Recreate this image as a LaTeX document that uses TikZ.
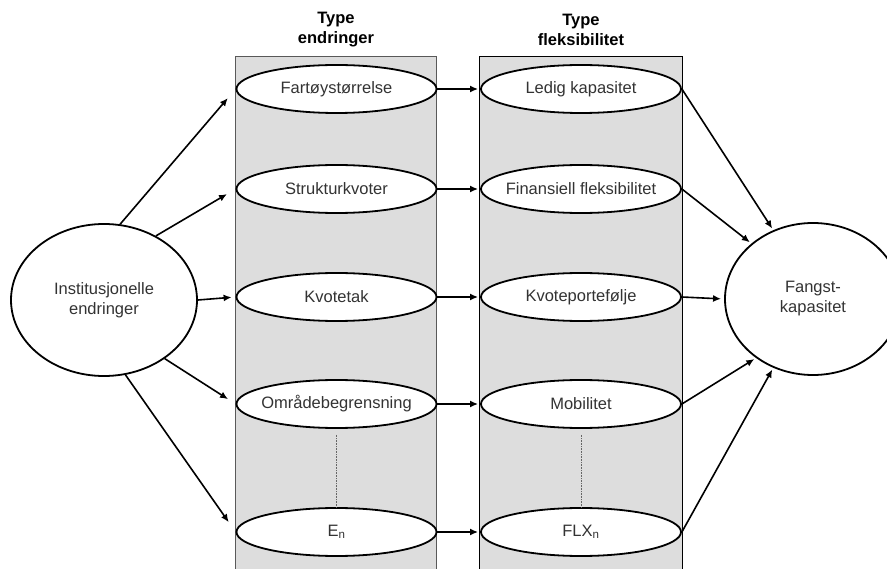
\documentclass[tikz,border=0pt]{standalone}
\usepackage{fontspec}
\setmainfont{Liberation Sans}
\usetikzlibrary{shapes.geometric,arrows.meta}

\definecolor{bakgrunn}{HTML}{DDDDDD}
\definecolor{tekst}{HTML}{333333}

\tikzset{
    boks/.style={ellipse, draw, line width=1.8pt, fill=white, inner xsep=-12pt, inner ysep=0pt,
        minimum width=200pt, minimum height=48pt, text=tekst},
    stor/.style={ellipse, draw, line width=1.8pt, fill=white, inner sep=0pt,
        align=center, text=tekst},
    pil/.style={line width=1.6pt, -{Latex[length=8pt,width=7pt]}},
    prikk/.style={densely dotted, line width=0.6pt, draw=gray!80!black},
    hode/.style={align=center, font=\fontsize{16.5}{20}\selectfont\bfseries}
}

\begin{document}
\begin{tikzpicture}[x=1pt, y=-1pt, font=\fontsize{16.5}{20}\selectfont]
        \useasboundingbox (0,0) rectangle (887,569);
        % to grå kolonner
        \filldraw [fill=bakgrunn, draw=gray!70!black, line width=1pt] (235,57) rectangle (436,575);
        \filldraw [fill=bakgrunn, draw=black, line width=1pt] (479,57) rectangle (682,575);
        \node [hode] (hode1) at (336,30) {Type\\endringer};
        \node [hode] (hode2) at (581,30) {Type\\fleksibilitet};

        \node [stor, minimum width=186pt, minimum height=152pt] (inst) at (104,300) {Institusjonelle\\endringer};
        \node [stor, minimum width=176pt, minimum height=152pt] (fangst) at (813,299) {Fangst-\\kapasitet};

        \node [boks] (fart) at (336.5,89) {Fartøystørrelse};
        \node [boks] (struk) at (336.5,189) {Strukturkvoter};
        \node [boks] (tak) at (336.5,297) {Kvotetak};
        \node [boks] (omr) at (336.5,404) {Områdebegrensning};
        \node [boks] (en) at (336.5,532) {E\textsubscript{n}};

        \node [boks] (ledig) at (581,89) {Ledig kapasitet};
        \node [boks] (fin) at (581,189) {Finansiell fleksibilitet};
        \node [boks] (port) at (581,297) {Kvoteportefølje};
        \node [boks] (mob) at (581,404) {Mobilitet};
        \node [boks] (flx) at (581,532) {FLX\textsubscript{n}};

        \draw [prikk, shorten <=6pt] (omr.south) -- (en.north);
        \draw [prikk, shorten <=6pt] (mob.south) -- (flx.north);

        \draw [pil, shorten >=12pt] (inst.78) -- (fart.west);
        \draw [pil, shorten >=10pt] (inst.51) -- (struk.west);
        \draw [pil, shorten >=4pt] (inst.east) -- (tak.west);
        \draw [pil, shorten >=9pt] (inst.-44) -- (omr.west);
        \draw [pil, shorten >=12pt] (inst.-74) -- (en.west);

        \draw [pil, shorten >=2pt] (fart.east) -- (ledig.west);
        \draw [pil, shorten >=2pt] (struk.east) -- (fin.west);
        \draw [pil, shorten >=2pt] (tak.east) -- (port.west);
        \draw [pil, shorten >=2pt] (omr.east) -- (mob.west);
        \draw [pil, shorten >=2pt] (en.east) -- (flx.west);

        \draw [pil, shorten >=2pt] (ledig.east) -- (fangst.120);
        \draw [pil, shorten >=2pt] (fin.east) -- (fangst.138);
        \draw [pil, shorten >=3pt] (port.east) -- (fangst.west);
        \draw [pil, shorten >=2pt] (mob.east) -- (fangst.-134);
        \draw [pil, shorten >=2pt] (flx.east) -- (fangst.-120);
    \end{tikzpicture}
\end{document}
